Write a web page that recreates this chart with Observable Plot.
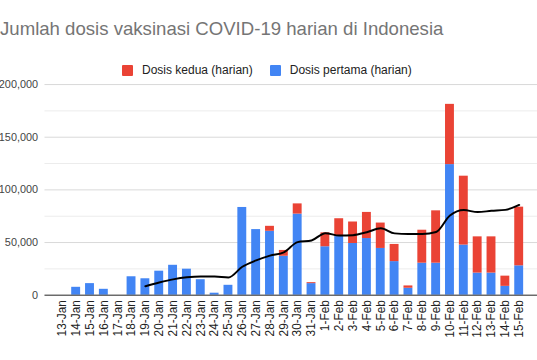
<!DOCTYPE html>
<html>
<head>
<meta charset="utf-8">
<script src="https://cdn.jsdelivr.net/npm/d3@7"></script>
<script src="https://cdn.jsdelivr.net/npm/@observablehq/plot@0.6"></script>
<style>
  html, body { margin: 0; padding: 0; background: #fff; overflow: hidden; }
  #wrap { position: relative; width: 537px; height: 360px; overflow: hidden; font-family: "Liberation Sans", Arial, sans-serif; }
  #title { position: absolute; left: 0px; top: 19px; font-size: 18.6px; color: #757575; white-space: nowrap; line-height: 20px; }
  #legend { position: absolute; left: 122px; top: 63px; display: flex; align-items: center; font-size: 12px; color: #222; white-space: nowrap; }
  .sw { width: 11px; height: 11px; border-radius: 1px; display: inline-block; margin-right: 9px; }
  .item { display: flex; align-items: center; margin-right: 17px; }
  #chart { position: absolute; left: 0; top: 0; }
</style>
</head>
<body>
<div id="wrap">
  <div id="chart"></div>
  <div id="title">Jumlah dosis vaksinasi COVID-19 harian di Indonesia</div>
  <div id="legend"></div>
</div>
<script>
const dates = ["13-Jan","14-Jan","15-Jan","16-Jan","17-Jan","18-Jan","19-Jan","20-Jan","21-Jan","22-Jan","23-Jan","24-Jan","25-Jan","26-Jan","27-Jan","28-Jan","29-Jan","30-Jan","31-Jan","1-Feb","2-Feb","3-Feb","4-Feb","5-Feb","6-Feb","7-Feb","8-Feb","9-Feb","10-Feb","11-Feb","12-Feb","13-Feb","14-Feb","15-Feb"];
const dosisPertama = [0,7500,11000,5600,0,17500,15600,22800,28400,24700,14700,1900,9400,83300,62300,60700,37000,77000,11000,46000,55700,49100,53800,44400,31900,6600,30400,30400,124000,47600,21000,21000,8400,27900];
const dosisKedua = [0,0,0,0,0,0,0,0,0,0,0,0,0,0,0,4700,5500,9700,900,13200,16900,20400,24800,24100,16300,2200,31300,49700,57200,65400,34400,34400,9700,55700];
const rataRata = [null,null,null,null,null,null,8500,12000,15000,17000,17800,17800,16900,27000,33000,37600,40700,50400,52000,58900,56600,57000,59800,63500,58700,58200,58200,60000,75700,80800,78900,80100,81000,85700];
const seriesNames = ["Dosis pertama (harian)", "Dosis kedua (harian)"];
const seriesColors = ["#4285f4", "#ea4335"];
const legendOrder = ["Dosis kedua (harian)", "Dosis pertama (harian)"];
const yTicks = [0, 50000, 100000, 150000, 200000];
const yMinor = [25000, 75000, 125000, 175000];

const rows = [];
dates.forEach((d, i) => {
  rows.push({date: d, series: seriesNames[0], value: dosisPertama[i]});
  rows.push({date: d, series: seriesNames[1], value: dosisKedua[i]});
});
const lineRows = dates.map((d, i) => ({date: d, value: rataRata[i]})).filter(r => r.value != null);
const fmt = d3.format(",");

const chart = Plot.plot({
  width: 543,
  height: 360,
  marginTop: 85,
  marginBottom: 62,
  marginLeft: 45,
  marginRight: 0,
  style: {fontFamily: "Liberation Sans, Arial, sans-serif", background: "#fff"},
  x: {type: "band", domain: dates, paddingInner: 0.33, paddingOuter: 0.4, label: null},
  y: {domain: [0, 200000], label: null},
  color: {domain: seriesNames, range: seriesColors},
  marks: [
    Plot.ruleY(yMinor, {stroke: "#ececec", strokeWidth: 1}),
    Plot.ruleY(yTicks, {stroke: "#d9d9d9", strokeWidth: 1}),
    Plot.barY(rows, {x: "date", y: "value", fill: "series", order: seriesNames}),
    Plot.ruleY([0], {stroke: "#333", strokeWidth: 1}),
    Plot.line(lineRows, {x: "date", y: "value", stroke: "#000", strokeWidth: 2, curve: "monotone-x"}),
    Plot.axisY(yTicks, {tickFormat: fmt, tickSize: 0, tickPadding: 7, fontSize: 11, fill: "#444", label: null}),
    Plot.axisX({tickRotate: -90, tickSize: 0, tickPadding: 5, fontSize: 12, fill: "#222", label: null})
  ]
});
document.getElementById("chart").appendChild(chart);

const legend = document.getElementById("legend");
legendOrder.forEach(name => {
  const item = document.createElement("div");
  item.className = "item";
  const sw = document.createElement("span");
  sw.className = "sw";
  sw.style.background = seriesColors[seriesNames.indexOf(name)];
  item.appendChild(sw);
  item.appendChild(document.createTextNode(name));
  legend.appendChild(item);
});
</script>
</body>
</html>
